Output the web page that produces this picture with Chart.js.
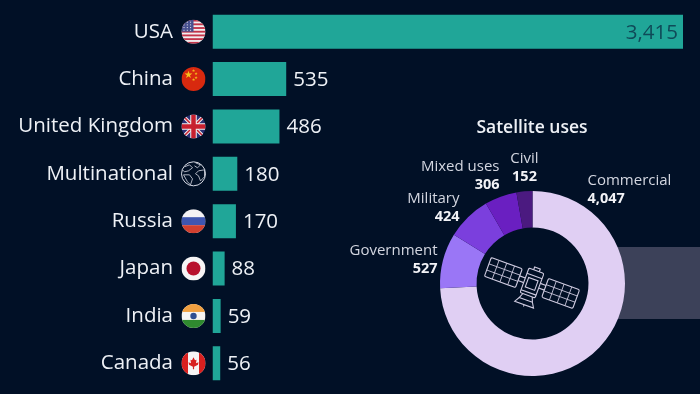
<!DOCTYPE html>
<html>
<head>
<meta charset="utf-8">
<script src="https://cdn.jsdelivr.net/npm/chart.js@4"></script>
<style>
  html, body { margin: 0; background: #011026; overflow: hidden; }
  #wrap { position: relative; width: 700px; height: 394px; overflow: hidden; }
  canvas, svg, #band { position: absolute; }
  #band { left: 600px; top: 247px; width: 100px; height: 72px; background: #3c4159; }
</style>
</head>
<body>
<div id="wrap">
  <div id="band"></div>
  <canvas id="barChart" width="700" height="394" style="left:0;top:0"></canvas>
  <canvas id="donutChart" width="360" height="284" style="left:340px;top:110px"></canvas>
  <!-- satellite icon in the middle of the donut -->
  <svg width="700" height="394" style="left:0;top:0" fill="none" stroke="#cfcbe0" stroke-width="1.1">
    <g transform="translate(532 283) rotate(20)">
      <rect x="-47" y="-10" width="33" height="20" rx="1.5"/>
      <path d="M-38.7-10v20M-30.5-10v20M-22.2-10v20M-47-3.3h33M-47 3.3h33" stroke-width=".8"/>
      <rect x="14" y="-10" width="33" height="20" rx="1.5"/>
      <path d="M22.2-10v20M30.5-10v20M38.7-10v20M14-3.3h33M14 3.3h33" stroke-width=".8"/>
      <path d="M-14-2.5h6M-14 2.5h6M8-2.5h6M8 2.5h6"/>
      <rect x="-8" y="-13" width="16" height="26" rx="1.5"/>
      <path d="M-8-7.5h16M-8 10h16"/>
      <rect x="-5" y="-4" width="10" height="10"/>
      <path d="M-3-13v-3h6v3M-5 13l-2 5h14l-2-5M-7 18l-3 5h20l-3-5M0 23v2" />
    </g>
  </svg>
</div>
<script>
const countries = ['USA', 'China', 'United Kingdom', 'Multinational', 'Russia', 'Japan', 'India', 'Canada'];
const satellites = [3415, 535, 486, 180, 170, 88, 59, 56];
const useLabels = ['Commercial', 'Government', 'Military', 'Mixed uses', 'Civil'];
const useValues = [4047, 527, 424, 306, 152];

const font = '"Open Sans", sans-serif';

// all flags are drawn inside a clipped circle
function drawFlag(ctx, name, x, y, r) {
  ctx.save();
  ctx.translate(x, y);
  ctx.beginPath();
  ctx.arc(0, 0, r, 0, Math.PI * 2);
  if (name === 'Multinational') {
    ctx.strokeStyle = '#d8dbe6';
    ctx.lineWidth = 1;
    ctx.stroke();
    ctx.beginPath();
    ctx.moveTo(-9, -7); ctx.lineTo(-4, -9); ctx.lineTo(-1, -6); ctx.lineTo(-5, -3); ctx.lineTo(-9, -2); ctx.lineTo(-11, -4);
    ctx.moveTo(2, -11); ctx.lineTo(7, -9); ctx.lineTo(4, -6); ctx.lineTo(1, -8);
    ctx.moveTo(5, -3); ctx.lineTo(11, -4); ctx.lineTo(11, 3); ctx.lineTo(7, 7); ctx.lineTo(5, 2); ctx.lineTo(2, 0);
    ctx.closePath();
    ctx.moveTo(-10, 1); ctx.lineTo(-4, 1); ctx.lineTo(-1, 5); ctx.lineTo(-3, 11); ctx.lineTo(-6, 8);
    ctx.closePath();
    ctx.lineWidth = 0.8;
    ctx.stroke();
    ctx.restore();
    return;
  }
  ctx.clip();
  const band = (color, y0, h) => { ctx.fillStyle = color; ctx.fillRect(-r, y0, r * 2, h); };
  if (name === 'USA') {
    band('#f2eef0', -r, r * 2);
    for (let i = 0; i < 7; i++) band('#c4344a', -r + i * 3.7, 1.85);
    ctx.fillStyle = '#47508f';
    ctx.fillRect(-r, -r, r, r);
    ctx.fillStyle = '#eceaf2';
    for (let i = 0; i < 4; i++) for (let j = 0; j < 3; j++) ctx.fillRect(-10 + j * 3.3, -10 + i * 2.7, 1, 1);
  } else if (name === 'China') {
    band('#d8290f', -r, r * 2);
    ctx.fillStyle = '#f6c21c';
    ctx.font = '10px "DejaVu Sans"';
    ctx.textAlign = 'center';
    ctx.textBaseline = 'middle';
    ctx.fillText('★', -5, -4);
    ctx.font = '4px "DejaVu Sans"';
    [[0, -8], [2.5, -5], [2.5, -1], [0, 1]].forEach(s => ctx.fillText('★', s[0], s[1]));
  } else if (name === 'United Kingdom') {
    band('#2a2f72', -r, r * 2);
    ctx.strokeStyle = '#f2eef0';
    ctx.lineWidth = 3.5;
    ctx.beginPath(); ctx.moveTo(-r, -r); ctx.lineTo(r, r); ctx.moveTo(r, -r); ctx.lineTo(-r, r); ctx.stroke();
    ctx.strokeStyle = '#c8202f';
    ctx.lineWidth = 1.5;
    ctx.stroke();
    ctx.strokeStyle = '#f2eef0';
    ctx.lineWidth = 6.5;
    ctx.beginPath(); ctx.moveTo(-r, 0); ctx.lineTo(r, 0); ctx.moveTo(0, -r); ctx.lineTo(0, r); ctx.stroke();
    ctx.strokeStyle = '#c8202f';
    ctx.lineWidth = 4.5;
    ctx.stroke();
  } else if (name === 'Russia') {
    band('#f4f2f4', -r, r * 2);
    band('#3f56b0', -r / 3, r * 2 / 3);
    band('#d1402f', r / 3, r * 2 / 3);
  } else if (name === 'Japan') {
    band('#f6f4f5', -r, r * 2);
    ctx.fillStyle = '#b8102c';
    ctx.beginPath(); ctx.arc(0, 0, 7, 0, Math.PI * 2); ctx.fill();
  } else if (name === 'India') {
    band('#f6f4f2', -r, r * 2);
    band('#f0a040', -r, r * 2 / 3);
    band('#2f8a2f', r / 3, r * 2 / 3);
    ctx.fillStyle = '#2f4f92';
    ctx.beginPath(); ctx.arc(0, 0, 3.2, 0, Math.PI * 2); ctx.fill();
  } else if (name === 'Canada') {
    band('#f6f4f4', -r, r * 2);
    ctx.fillStyle = '#d8201f';
    ctx.fillRect(-r, -r, 6.5, r * 2);
    ctx.fillRect(r - 6.5, -r, 6.5, r * 2);
    ctx.beginPath();
    ctx.moveTo(0, -6); ctx.lineTo(1.5, -3); ctx.lineTo(3, -3.5); ctx.lineTo(2.5, 0); ctx.lineTo(5, -1);
    ctx.lineTo(4.5, 1.5); ctx.lineTo(0.6, 3.5); ctx.lineTo(0.6, 6); ctx.lineTo(-0.6, 6); ctx.lineTo(-0.6, 3.5);
    ctx.lineTo(-4.5, 1.5); ctx.lineTo(-5, -1); ctx.lineTo(-2.5, 0); ctx.lineTo(-3, -3.5); ctx.lineTo(-1.5, -3);
    ctx.closePath();
    ctx.fill();
  }
  ctx.restore();
}

const barExtras = {
  id: 'barExtras',
  afterDatasetsDraw(chart) {
    const { ctx, scales } = chart;
    const bars = chart.getDatasetMeta(0).data;
    ctx.save();
    ctx.font = '20.5px ' + font;
    ctx.textBaseline = 'middle';
    bars.forEach((bar, i) => {
      const text = satellites[i].toLocaleString('en-US');
      if (i === 0) {
        ctx.fillStyle = '#0f4a58';
        ctx.textAlign = 'right';
        ctx.fillText(text, bar.x - 5, bar.y + 1);
      } else {
        ctx.fillStyle = '#eef1f6';
        ctx.textAlign = 'left';
        ctx.fillText(text, bar.x + 7, bar.y + 1);
      }
      drawFlag(ctx, countries[i], 193.5, scales.y.getPixelForTick(i), 12);
    });
    ctx.restore();
  }
};

new Chart(document.getElementById('barChart'), {
  type: 'bar',
  data: {
    labels: countries,
    datasets: [{
      data: satellites,
      backgroundColor: '#20a698',
      barPercentage: 0.72,
      categoryPercentage: 1
    }]
  },
  options: {
    indexAxis: 'y',
    responsive: false,
    animation: false,
    layout: { padding: { top: 8, bottom: 7, right: 17, left: 0 } },
    plugins: { legend: { display: false }, tooltip: { enabled: false } },
    scales: {
      x: { display: false, min: 0, max: 3415 },
      y: {
        // tick padding also pads top and bottom of the axis, take that off
        afterFit(axis) {
          axis.width = 212.5;
          axis.paddingTop = 0;
          axis.paddingBottom = 0;
        },
        border: { display: false },
        grid: { display: false, drawTicks: false },
        ticks: { color: '#eef1f6', padding: 39.5, font: { family: font, size: 20.5 } }
      }
    }
  },
  plugins: [barExtras]
});

// label anchors relative to the donut centre, one per slice
const labelSpots = [
  { x: 55, y: -103, align: 'left' },
  { x: -95, y: -33, align: 'right' },
  { x: -73, y: -85, align: 'right' },
  { x: -33, y: -117, align: 'right' },
  { x: -8, y: -125, align: 'center' }
];

const donutExtras = {
  id: 'donutExtras',
  afterDatasetsDraw(chart) {
    const { ctx } = chart;
    const arc = chart.getDatasetMeta(0).data[0];
    ctx.save();
    ctx.textBaseline = 'middle';
    ctx.textAlign = 'center';
    ctx.fillStyle = '#eef1f6';
    ctx.font = '600 17.5px ' + font;
    ctx.fillText('Satellite uses', arc.x - 0.5, arc.y - 155);
    labelSpots.forEach((spot, i) => {
      ctx.textAlign = spot.align;
      ctx.fillStyle = '#d3d6e0';
      ctx.font = '15px ' + font;
      ctx.fillText(useLabels[i], arc.x + spot.x, arc.y + spot.y);
      ctx.fillStyle = '#f2f3f7';
      ctx.font = '700 14.5px ' + font;
      ctx.fillText(useValues[i].toLocaleString('en-US'), arc.x + spot.x, arc.y + spot.y + 18);
    });
    ctx.restore();
  }
};

new Chart(document.getElementById('donutChart'), {
  type: 'doughnut',
  data: {
    labels: useLabels,
    datasets: [{
      data: useValues,
      backgroundColor: ['#e0cff3', '#9a76f6', '#7b3fdd', '#6a1fc1', '#4b1a80'],
      borderWidth: 0
    }]
  },
  options: {
    responsive: false,
    animation: false,
    cutout: '60.5%',
    layout: { padding: { left: 100, right: 75, top: 81, bottom: 18 } },
    plugins: { legend: { display: false }, tooltip: { enabled: false } }
  },
  plugins: [donutExtras]
});
</script>
</body>
</html>
